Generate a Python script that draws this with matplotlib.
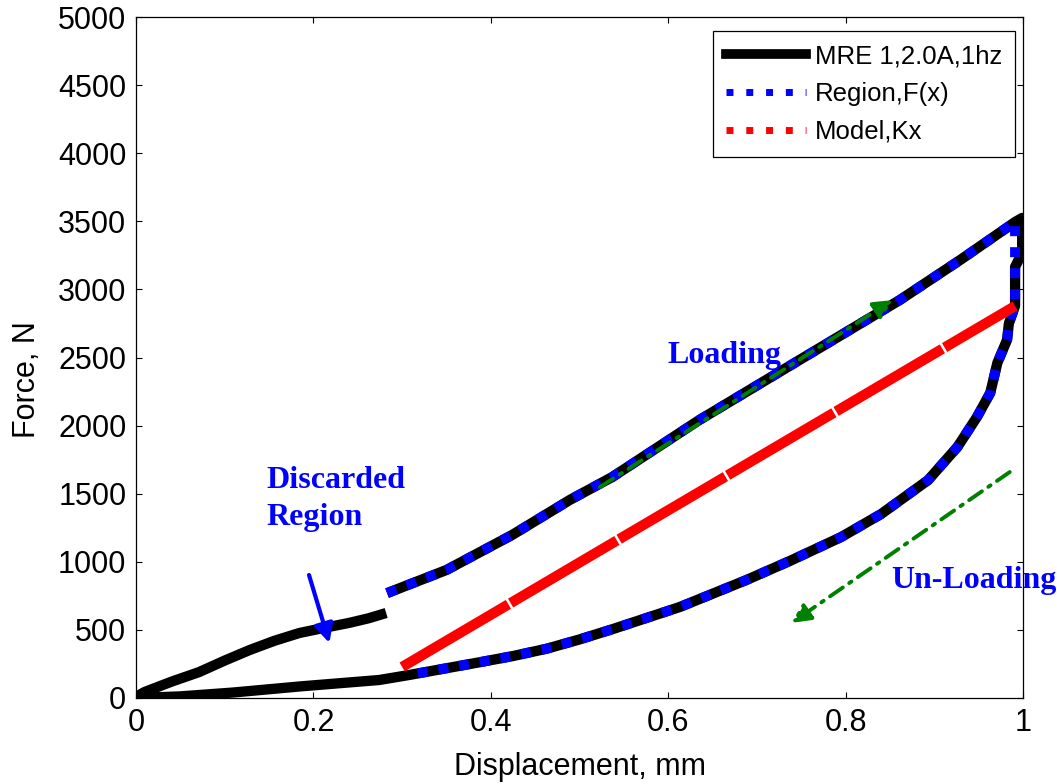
import numpy as np
import matplotlib
matplotlib.use('Agg')
import matplotlib.pyplot as plt
from matplotlib.lines import Line2D

# ---------------- data ----------------
# discarded initial loading part (black only)
disc_x = [0.000, 0.010, 0.040, 0.071, 0.100, 0.128, 0.156, 0.184, 0.212, 0.240, 0.262, 0.282]
disc_F = [10, 45, 120, 190, 275, 352, 420, 477, 515, 551, 585, 624]
# loading branch
load_x = [0.283, 0.350, 0.424, 0.489, 0.537, 0.635, 0.748, 0.861, 0.930, 0.991]
load_F = [770, 940, 1197, 1454, 1623, 2041, 2482, 2922, 3220, 3495]
# turn-around at maximum displacement (black)
turn_x = [0.999, 0.999, 0.991, 0.991]
turn_F = [3525, 3270, 3165, 2880]
# unloading branch
unload_x = [0.984, 0.982, 0.971, 0.963, 0.948, 0.926, 0.906, 0.893, 0.840, 0.795,
            0.737, 0.688, 0.613, 0.537, 0.500, 0.463, 0.425, 0.387, 0.308, 0.274,
            0.185, 0.109, 0.050, 0.000]
unload_F = [2750, 2630, 2460, 2240, 2063, 1843, 1696, 1600, 1351, 1182,
            1006, 866, 668, 505, 430, 362, 308, 262, 169, 132,
            85, 40, 12, 0]
region_end_x = 0.308          # blue region stops here on the unloading branch
# linear model Kx
model_x = [0.300, 0.991]
model_F = [228, 2878]

# annotations
loading_arrow = [(0.523, 1549), (0.853, 2922)]
unloading_arrow = [(0.985, 1659), (0.739, 551)]
discard_arrow = [(0.195, 903), (0.218, 404)]

legend_labels = ['MRE 1,2.0A,1hz', 'Region,F(x)', 'Model,Kx']
x_ticks = [0, 0.2, 0.4, 0.6, 0.8, 1]
x_tick_labels = ['0', '0.2', '0.4', '0.6', '0.8', '1']
y_ticks = list(range(0, 5001, 500))

# ---------------- figure ----------------
plt.rcParams['font.family'] = ['Liberation Sans', 'DejaVu Sans']
fig = plt.figure(figsize=(10.57, 7.84), dpi=100)
ax = fig.add_axes([0.1287, 0.1097, 0.8392, 0.8686])

# black measured loop
mre_x = disc_x + [np.nan] + load_x + turn_x + unload_x
mre_F = disc_F + [np.nan] + load_F + turn_F + unload_F
ax.plot(mre_x, mre_F, color='black', lw=7.4, solid_capstyle='butt', zorder=2)

# blue region
ux = [x for x in unload_x if x >= region_end_x]
uF = unload_F[:len(ux)]
reg_x = load_x + [load_x[-1]] + ux
reg_F = load_F + [turn_F[-1]] + uF
ax.plot(reg_x, reg_F, color='blue', lw=7.2, linestyle=(0, (1, 1.1)), zorder=3)

# red model
ax.plot(model_x, model_F, color='red', lw=7.4, linestyle=(0, (12, 0.25)), zorder=3)

# arrows
def arrow(pts, color, ls, lw):
    (x0, y0), (x1, y1) = pts
    ax.annotate('', xy=(x1, y1), xytext=(x0, y0),
                arrowprops=dict(arrowstyle='-|>', color=color, lw=lw, linestyle=ls,
                                mutation_scale=28, shrinkA=0, shrinkB=0),
                zorder=4)

arrow(loading_arrow, 'green', (0, (4, 2, 0.7, 2)), 2.8)
arrow(unloading_arrow, 'green', (0, (4, 2, 0.7, 2)), 2.8)
arrow(discard_arrow, 'blue', '-', 3.0)

# texts
tfont = dict(family=['Liberation Serif', 'DejaVu Serif'], weight='bold', color='blue', fontsize=23)
ax.text(0.1475, 1542, 'Discarded', ha='left', va='baseline', **tfont)
ax.text(0.1475, 1270, 'Region', ha='left', va='baseline', **tfont)
ax.text(0.599, 2460, 'Loading', ha='left', va='baseline', **tfont)
ax.text(0.851, 808, 'Un-Loading', ha='left', va='baseline', clip_on=False, **tfont)

# axes
ax.set_xlim(0, 1)
ax.set_ylim(0, 5000)
ax.set_xticks(x_ticks)
ax.set_xticklabels(x_tick_labels)
ax.set_yticks(y_ticks)
ax.tick_params(direction='in', length=4, width=0.8, top=True, right=True,
               labelsize=22, pad=7)
for s in ax.spines.values():
    s.set_linewidth(0.9)
ax.set_xlabel('Displacement, mm', fontsize=22, labelpad=10)
ax.set_ylabel('Force, N', fontsize=22)
ax.yaxis.set_label_coords(-0.106, 0.467)

# legend
handles = [Line2D([], [], color='black', lw=7),
           Line2D([], [], color='blue', lw=5, linestyle=(0, (1, 1.85))),
           Line2D([], [], color='red', lw=5, linestyle=(0, (1, 1.85)))]
leg = ax.legend(handles, legend_labels, loc='upper right', bbox_to_anchor=(0.991, 0.979),
                borderaxespad=0, fontsize=18.5, handlelength=3.1, handletextpad=0.35,
                labelspacing=0.54, borderpad=0.5, fancybox=False, framealpha=1,
                edgecolor='black')
leg.get_frame().set_linewidth(0.9)

fig.savefig('out.png', dpi=100)
